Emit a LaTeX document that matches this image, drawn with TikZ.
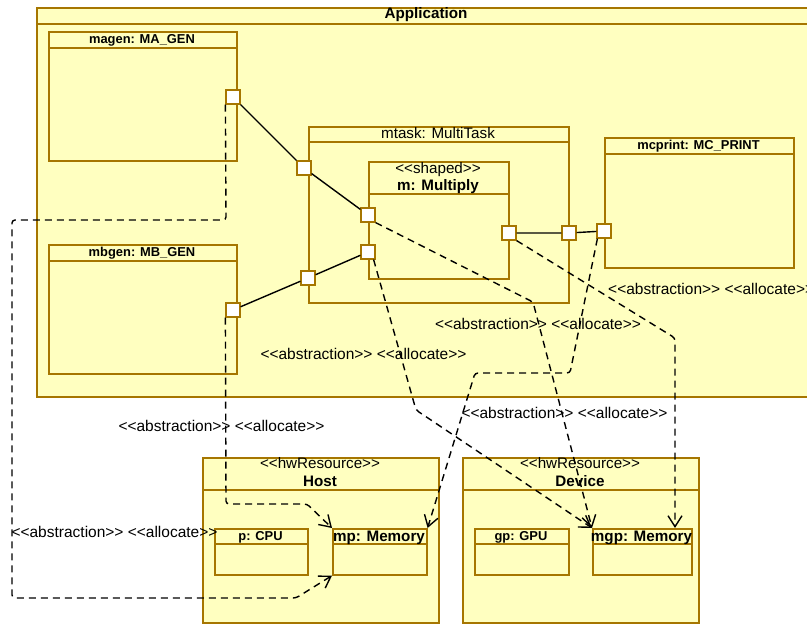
\documentclass[tikz,border=0pt]{standalone}
\usepackage{fontspec}
\setmainfont{Liberation Sans}[Ligatures=TeXOff]
\usetikzlibrary{arrows.meta}
\definecolor{umlfill}{RGB}{255,255,192}
\definecolor{umlline}{RGB}{166,118,0}
\begin{document}
\begin{tikzpicture}[x=1pt,y=-1pt,
  ubox/.style={draw=umlline,fill=umlfill,line width=1.6pt,rectangle,inner sep=0pt,anchor=north west},
  port/.style={draw=umlline,fill=white,line width=1.2pt,rectangle,minimum size=14pt,inner sep=0pt},
  big/.style={font=\fontsize{15.2}{18}\selectfont,inner sep=0pt,anchor=base},
  bigb/.style={font=\fontsize{15.2}{18}\selectfont\bfseries,inner sep=0pt,anchor=base},
  smallb/.style={font=\fontsize{12.9}{15}\selectfont\bfseries,inner sep=0pt,anchor=base},
  lbl/.style={font=\fontsize{15.5}{18}\selectfont,inner sep=0pt,anchor=base},
  conn/.style={line width=1.4pt,black},
  dep/.style={line width=1.4pt,black,dash pattern=on 7pt off 5pt,rounded corners=3pt,-{Straight Barb[length=11pt,width=14pt]}},
  hdr/.style={draw=umlline,line width=1.6pt}]
\useasboundingbox (0,0) rectangle (807,624);

% Application
\node[ubox,minimum width=780pt,minimum height=389pt] (app) at (36,7) {};
\draw[hdr] ([yshift=-17pt]app.north west) -- ([yshift=-17pt]app.north east);
\node[bigb] (appt) at (426,18.5) {Application};

% magen
\node[ubox,minimum width=188pt,minimum height=129pt] (magen) at (48,31) {};
\draw[hdr] ([yshift=-17pt]magen.north west) -- ([yshift=-17pt]magen.north east);
\node[smallb] (magent) at (142,43.5) {magen: MA\_GEN};

% mbgen
\node[ubox,minimum width=188pt,minimum height=129pt] (mbgen) at (48,244) {};
\draw[hdr] ([yshift=-17pt]mbgen.north west) -- ([yshift=-17pt]mbgen.north east);
\node[smallb] (mbgent) at (142,256.5) {mbgen: MB\_GEN};

% mtask
\node[ubox,minimum width=260pt,minimum height=176pt] (mtask) at (308,126) {};
\draw[hdr] ([yshift=-16pt]mtask.north west) -- ([yshift=-16pt]mtask.north east);
\node[big] (mtaskt) at (438,138) {mtask: MultiTask};

% m
\node[ubox,minimum width=140pt,minimum height=117pt] (m) at (368,161) {};
\draw[hdr] ([yshift=-33pt]m.north west) -- ([yshift=-33pt]m.north east);
\node[big] (mst) at (438,173) {<<shaped>>};
\node[bigb] (mt) at (438,190) {m: Multiply};

% mcprint
\node[ubox,minimum width=189pt,minimum height=130pt] (mcprint) at (604,137) {};
\draw[hdr] ([yshift=-17pt]mcprint.north west) -- ([yshift=-17pt]mcprint.north east);
\node[smallb] (mcprintt) at (698.5,149.5) {mcprint: MC\_PRINT};

% Host
\node[ubox,minimum width=236pt,minimum height=165pt] (host) at (202,457) {};
\draw[hdr] ([yshift=-33pt]host.north west) -- ([yshift=-33pt]host.north east);
\node[big] (hostst) at (320,468.5) {<<hwResource>>};
\node[bigb] (hostt) at (320,486) {Host};

% Device
\node[ubox,minimum width=236pt,minimum height=165pt] (dev) at (462,457) {};
\draw[hdr] ([yshift=-33pt]dev.north west) -- ([yshift=-33pt]dev.north east);
\node[big] (devst) at (580,468.5) {<<hwResource>>};
\node[bigb] (devt) at (580,486) {Device};

% CPU, mp, GPU, mgp
\node[ubox,minimum width=93pt,minimum height=46pt] (cpu) at (214,528) {};
\draw[hdr] ([yshift=-16pt]cpu.north west) -- ([yshift=-16pt]cpu.north east);
\node[smallb] (cput) at (260.5,540.5) {p: CPU};

\node[ubox,minimum width=94pt,minimum height=46pt] (mp) at (332,528) {};
\draw[hdr] ([yshift=-16pt]mp.north west) -- ([yshift=-16pt]mp.north east);
\node[bigb] (mpt) at (379,541) {mp: Memory};

\node[ubox,minimum width=94pt,minimum height=46pt] (gpu) at (474,528) {};
\draw[hdr] ([yshift=-16pt]gpu.north west) -- ([yshift=-16pt]gpu.north east);
\node[smallb] (gput) at (521,540.5) {gp: GPU};

\node[ubox,minimum width=99pt,minimum height=46pt] (mgp) at (592,528) {};
\draw[hdr] ([yshift=-16pt]mgp.north west) -- ([yshift=-16pt]mgp.north east);
\node[bigb] (mgpt) at (641.5,541) {mgp: Memory};

% ports
\node[port] (pA) at (233,97) {};
\node[port] (pT1) at (304,168) {};
\node[port] (pM1) at (368,215) {};
\node[port] (pB) at (233,310) {};
\node[port] (pT2) at (308,278) {};
\node[port] (pM2) at (368,252) {};
\node[port] (pM3) at (509,233) {};
\node[port] (pT3) at (569,233) {};
\node[port] (pC) at (604,231) {};

% solid connectors
\draw[conn] (pA) -- (pT1) -- (pM1);
\draw[conn] (pB) -- (pT2) -- (pM2);
\draw[conn] (pM3) -- (pT3) -- (pC);

% dependencies
\draw[dep] (pA.south west) -- (226,220) -- (12,220) -- (12,598) -- (296,598) -- (mp.south west);
\draw[dep] (pB.south west) -- (226,504) -- (307,504) -- (mp.north west);
\draw[dep] (pM1.south east) -- (533,302) -- (mgp.north west);
\draw[dep] ([xshift=-2pt]pM2.south east) -- (416,410) -- (mgp.north west);
\draw[dep] (pM3.south east) -- (675,338) -- ([xshift=83pt]mgp.north west);
\draw[dep] ([xshift=1pt]pC.south west) -- (570,373) -- (475,373) -- (mp.north east);

% labels
\node[lbl] (l1) at (114.5,537.5) {<<abstraction>> <<allocate>>};
\node[lbl] (l2) at (221.5,431) {<<abstraction>> <<allocate>>};
\node[lbl] (l3) at (538,329) {<<abstraction>> <<allocate>>};
\node[lbl] (l4) at (363.5,359) {<<abstraction>> <<allocate>>};
\node[lbl,anchor=base west] (l5) at (608,294) {<<abstraction>> <<allocate>>};
\node[lbl] (l6) at (564.5,418) {<<abstraction>> <<allocate>>};
\end{tikzpicture}
\end{document}
